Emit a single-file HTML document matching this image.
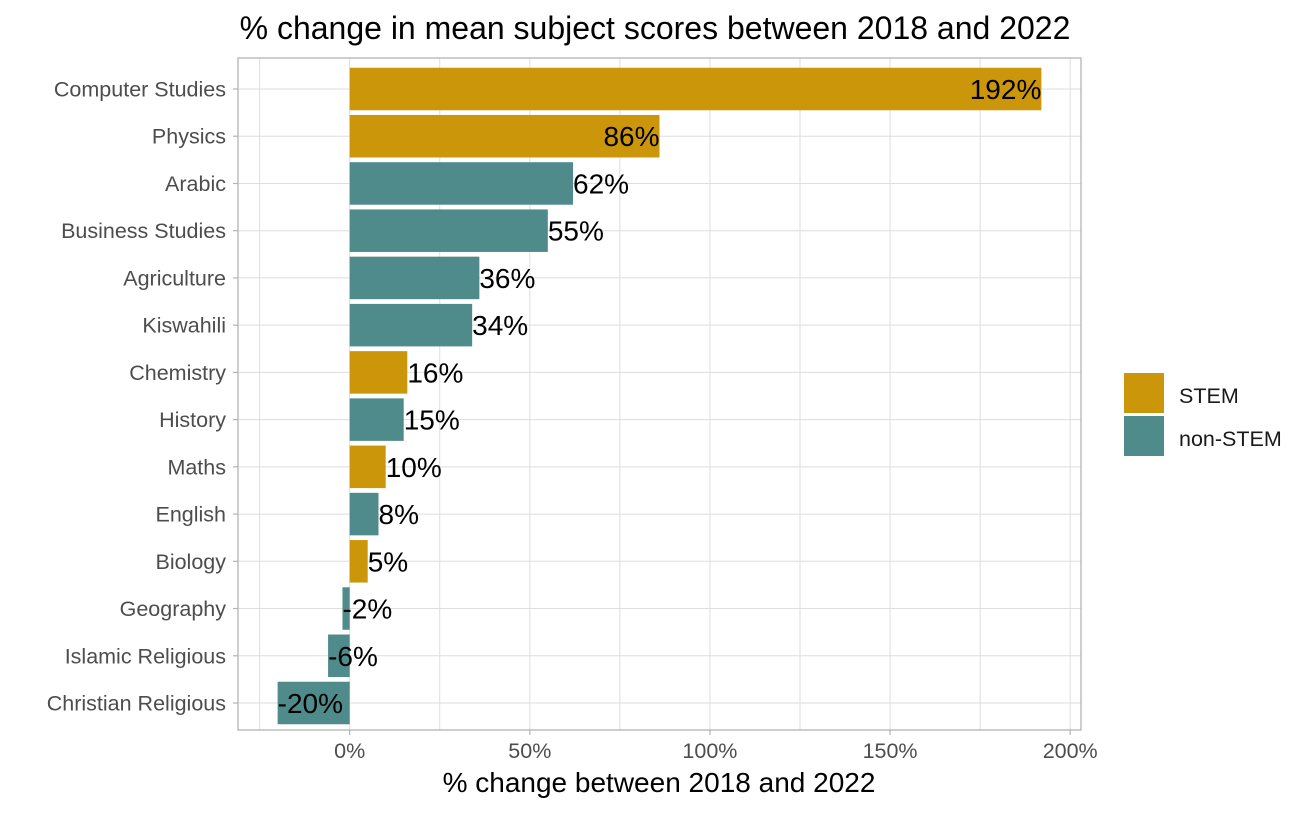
<!DOCTYPE html>
<html><head><meta charset="utf-8"><style>
body{margin:0;background:#fff;font-family:"Liberation Sans",Arial,sans-serif}
</style></head><body>
<svg id="chart" width="1312" height="811" xmlns="http://www.w3.org/2000/svg">
<text x="655" y="39" text-anchor="middle" font-size="32" fill="#000">% change in mean subject scores between 2018 and 2022</text>
<g id="grid"></g><g id="bars"></g><g id="labels"></g><g id="axes"></g>
<text x="659" y="792" text-anchor="middle" font-size="28" fill="#000">% change between 2018 and 2022</text>
<g>
<rect x="1124" y="373" width="40" height="40" fill="#CC960B"/>
<text x="1179" y="403" font-size="21.5" fill="#1a1a1a">STEM</text>
<rect x="1124" y="416" width="40" height="40" fill="#508B8B"/>
<text x="1179" y="446" font-size="21.5" fill="#1a1a1a">non-STEM</text>
</g>
</svg>
<script>
const categories=["Computer Studies","Physics","Arabic","Business Studies","Agriculture","Kiswahili","Chemistry","History","Maths","English","Biology","Geography","Islamic Religious","Christian Religious"];
const values=[192,86,62,55,36,34,16,15,10,8,5,-2,-6,-20];
const groups=["STEM","STEM","non-STEM","non-STEM","non-STEM","non-STEM","STEM","non-STEM","STEM","non-STEM","STEM","non-STEM","non-STEM","non-STEM"];
const xTicks=[0,50,100,150,200];
const xMinor=[-25,25,75,125,175];
const NS="http://www.w3.org/2000/svg";
const L=238,R=1081,T=58,B=730,xmin=-31,xmax=203;
const x=v=>L+(v-xmin)/(xmax-xmin)*(R-L);
const y0=89,step=(703-89)/13;
const y=i=>y0+i*step;
const col={"STEM":"#CC960B","non-STEM":"#508B8B"};
function mk(tag,attrs,parent){const e=document.createElementNS(NS,tag);for(const k in attrs)e.setAttribute(k,attrs[k]);document.getElementById(parent).appendChild(e);return e;}
xMinor.concat(xTicks).forEach(v=>{const l=mk('line',{x1:x(v),x2:x(v),y1:T,y2:B,stroke:'#dedede','stroke-width':1},'grid');

});
categories.forEach((c,i)=>{const l=mk('line',{x1:L,x2:R,y1:y(i),y2:y(i),stroke:'#dedede','stroke-width':1},'grid');

});
const bh=step*0.9;
values.forEach((v,i)=>{
const r=mk('rect',{x:Math.min(x(0),x(v)),y:y(i)-bh/2,width:Math.abs(x(v)-x(0)),height:bh,fill:col[groups[i]]},'bars');


const t=mk('text',{x:x(v),y:y(i)+10,'font-size':28,fill:'#000','text-anchor':v>80?'end':'start'},'labels');
t.textContent=v+'%';


const yl=mk('text',{x:226,y:y(i)+7.5,'font-size':21.5,fill:'#4d4d4d','text-anchor':'end'},'axes');
yl.textContent=categories[i];


const tk=mk('line',{x1:L-5,x2:L,y1:y(i),y2:y(i),stroke:'#b3b3b3','stroke-width':1.2},'axes');


});
const bd=mk('rect',{x:L,y:T,width:R-L,height:B-T,fill:'none',stroke:'#b3b3b3','stroke-width':1.3},'axes');


xTicks.forEach(v=>{
const tk=mk('line',{x1:x(v),x2:x(v),y1:B,y2:B+5,stroke:'#b3b3b3','stroke-width':1.2},'axes');


const t=mk('text',{x:x(v),y:B+28,'font-size':21.5,fill:'#4d4d4d','text-anchor':'middle'},'axes');
t.textContent=v+'%';


});
</script>
</body></html>
